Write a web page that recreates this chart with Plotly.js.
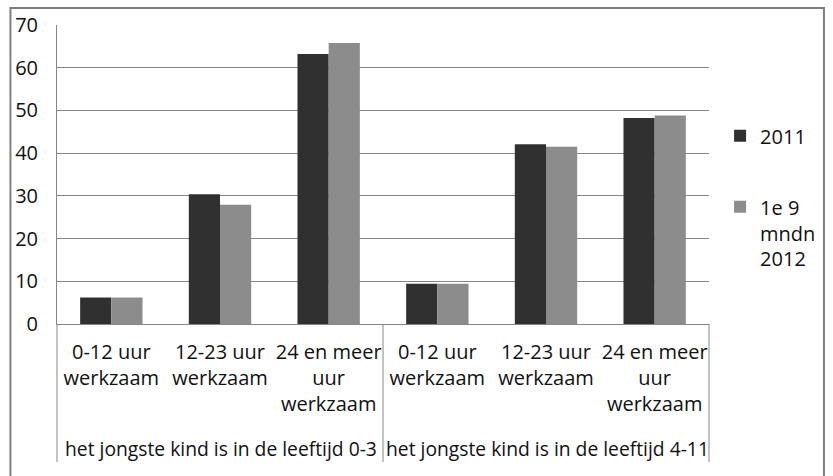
<!DOCTYPE html>
<html>
<head>
<meta charset="utf-8">
<script src="https://cdn.plot.ly/plotly-3.0.1.min.js"></script>
<style>html,body{margin:0;padding:0;background:#fff;}#chart{width:833px;height:476px;}</style>
</head>
<body>
<div id="chart"></div>
<script>
// Data
var categories = ["0-12 uur<br>werkzaam", "12-23 uur<br>werkzaam", "24 en meer<br>uur<br>werkzaam",
                  "0-12 uur<br>werkzaam", "12-23 uur<br>werkzaam", "24 en meer<br>uur<br>werkzaam"];
var groups = ["het jongste kind is in de leeftijd 0-3", "het jongste kind is in de leeftijd 4-11"];
var groupOf = [0, 0, 0, 1, 1, 1];
var series2011 = [6.2, 30.4, 63.2, 9.4, 42.1, 48.2];
var series2012 = [6.2, 27.9, 65.8, 9.4, 41.5, 48.8];
var seriesNames = ["2011", "1e 9<br>mndn<br>2012"];
var yTicks = [0, 10, 20, 30, 40, 50, 60, 70];

var xpos = categories.map(function (c, i) { return i; });
var FONT = "Open Sans, Noto Sans, sans-serif";
var TXT = "#111111";
var GRID = "#868686";
var FS = 20;

var traces = [
  {type: "bar", x: xpos, y: series2011, name: seriesNames[0], legendgroup: "a",
   marker: {color: "#303030"}, hoverinfo: "y"},
  {type: "bar", x: xpos, y: series2012, name: seriesNames[1], legendgroup: "b",
   marker: {color: "#8c8c8c"}, hoverinfo: "y"}
];

// group label annotations at the centre of each group's categories
var annotations = groups.map(function (g, gi) {
  var idx = xpos.filter(function (i) { return groupOf[i] === gi; });
  var c = idx.reduce(function (a, b) { return a + b; }, 0) / idx.length;
  return {text: g, x: c, xref: "x", y: -0.415, yref: "paper", showarrow: false,
          xanchor: "center", yanchor: "middle", xshift: 1,
          font: {family: FONT, size: 19.3, color: TXT}};
});

var divY0 = -0.4615;
var shapes = [
  {type: "line", xref: "paper", yref: "paper", x0: 0, x1: 0, y0: 0, y1: divY0, line: {color: GRID, width: 1}},
  {type: "line", xref: "paper", yref: "paper", x0: 0.5, x1: 0.5, y0: 0, y1: divY0, line: {color: GRID, width: 1}},
  {type: "line", xref: "paper", yref: "paper", x0: 1, x1: 1, y0: 0, y1: divY0, line: {color: GRID, width: 1}},
  {type: "rect", xref: "paper", yref: "paper", x0: -0.0714, x1: 1.1763, y0: -0.7, y1: 1.0569,
   line: {color: "#7f7f7f", width: 2}, fillcolor: "rgba(0,0,0,0)"}
];

var layout = {
  width: 833, height: 476,
  margin: {l: 57, r: 118, t: 25, b: 152},
  paper_bgcolor: "#fff", plot_bgcolor: "#fff",
  barmode: "group", bargap: 0.426, bargroupgap: 0,
  font: {family: FONT, size: FS, color: TXT},
  xaxis: {range: [-0.5, 5.5], tickvals: xpos, ticktext: categories, ticks: "",
          showgrid: false, zeroline: false, showline: true, linecolor: GRID, linewidth: 1,
          tickfont: {family: FONT, size: FS, color: TXT}, fixedrange: true, ticklabelstandoff: 10},
  yaxis: {range: [0, 70], tickvals: yTicks, showgrid: true, gridcolor: GRID, gridwidth: 1,
          zeroline: false, showline: true, linecolor: GRID, linewidth: 1, ticks: "",
          tickfont: {family: FONT, size: FS, color: TXT}, ticklabelstandoff: 14, fixedrange: true},
  legend: {x: 1.017, xanchor: "left", y: 0.695, yanchor: "top", valign: "top",
           font: {family: FONT, size: FS, color: TXT}, tracegroupgap: 42,
           bgcolor: "rgba(0,0,0,0)"},
  annotations: annotations,
  shapes: shapes,
  showlegend: true
};

Plotly.newPlot("chart", traces, layout, {displayModeBar: false, staticPlot: true});
</script>
</body>
</html>
